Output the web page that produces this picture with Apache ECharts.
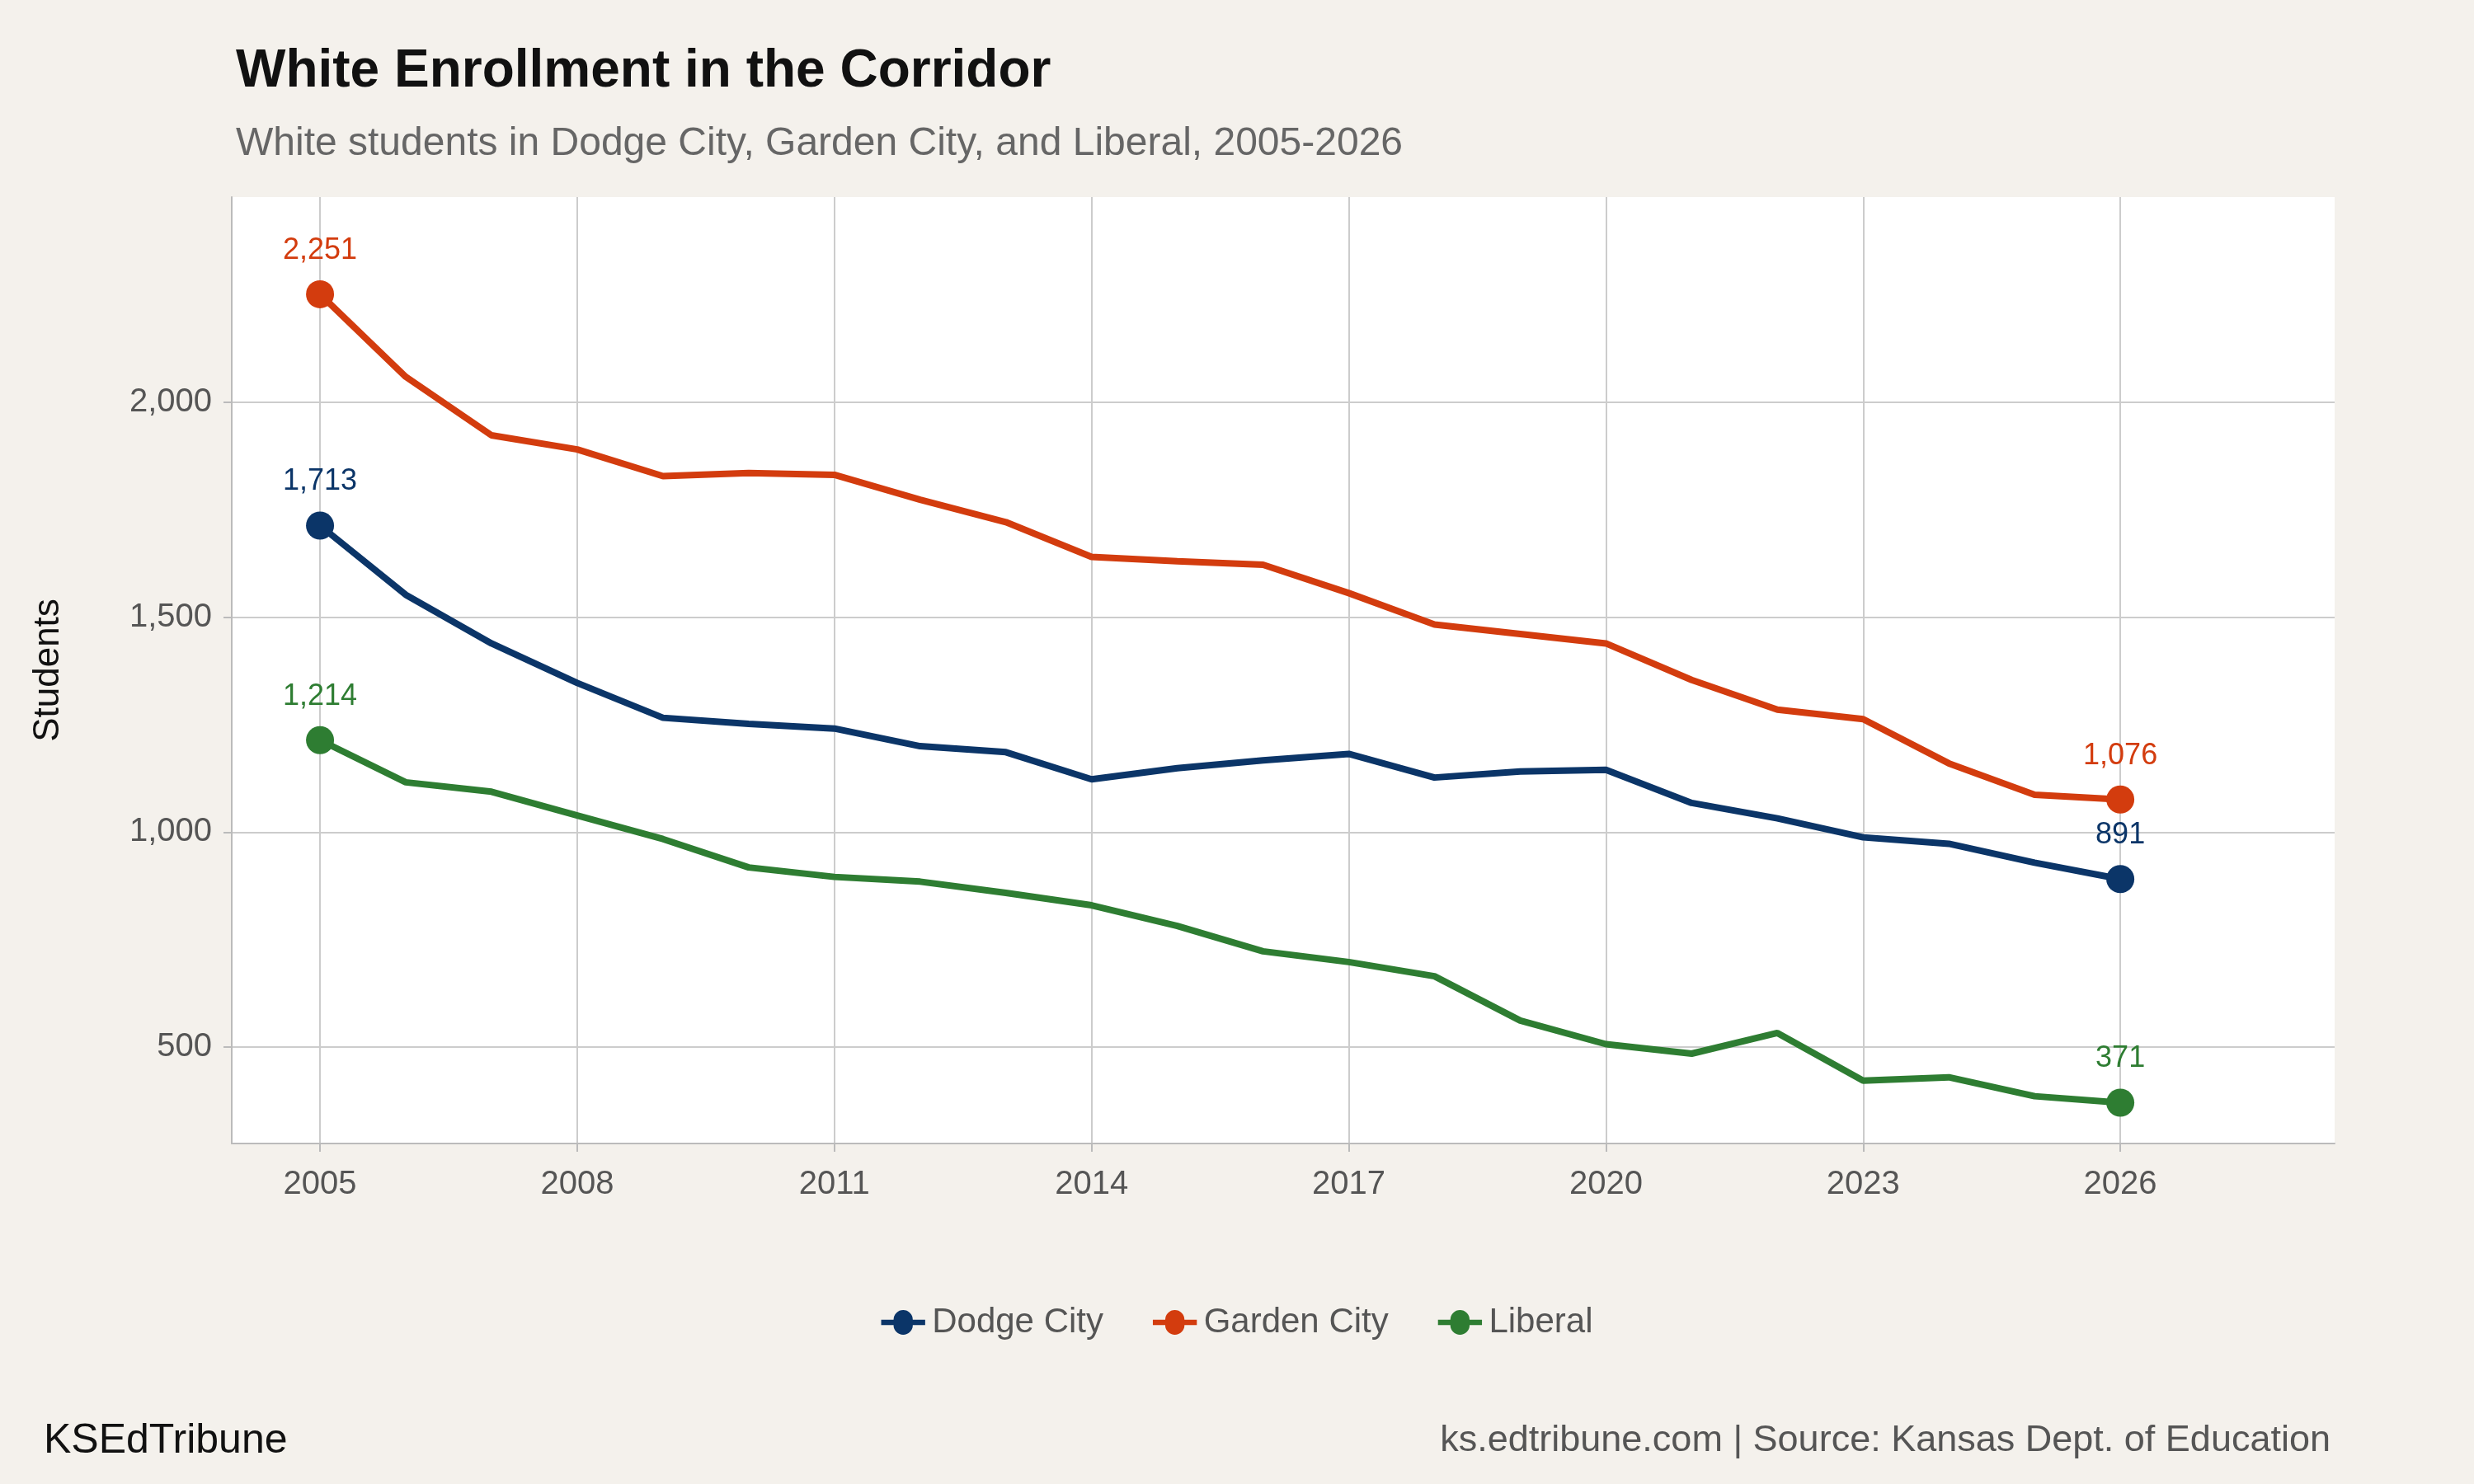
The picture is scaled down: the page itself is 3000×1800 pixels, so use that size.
<!DOCTYPE html>
<html><head><meta charset="utf-8">
<script src="https://cdn.jsdelivr.net/npm/echarts@6/dist/echarts.min.js"></script>
<style>html,body{margin:0;padding:0;background:#f4f1ec}#c{width:3000px;height:1800px}</style>
</head><body><div id="c"></div>
<script>
const years = [2005,2006,2007,2008,2009,2010,2011,2012,2013,2014,2015,2016,2017,2018,2019,2020,2021,2022,2023,2024,2025,2026];
const dodgeCity = [1713,1552,1439,1347,1266,1252,1241,1200,1186,1123,1149,1167,1182,1127,1141,1145,1068,1032,988,973,929,891];
const gardenCity = [2251,2059,1923,1890,1828,1835,1831,1773,1721,1640,1630,1622,1556,1483,1461,1439,1354,1285,1263,1160,1087,1076];
const liberal = [1214,1116,1094,1039,984,918,896,885,859,830,782,723,698,665,562,507,485,533,422,430,386,371];
const xTicks = [2005,2008,2011,2014,2017,2020,2023,2026];
const yTicks = [500,1000,1500,2000];
const names = ['Dodge City','Garden City','Liberal'];
const colors = ['#0b3568','#d33c0e','#2e7d32'];
const font = 'Liberation Sans, Arial, sans-serif';

function mk(name, vals, color){
  return {
    name, type:'line', color, lineStyle:{width:8,color}, showSymbol:true, z:3,
    data: vals.map((v,i)=>{
      const end = i===0 || i===vals.length-1;
      return end ? {value:[years[i],v], symbol:'circle', symbolSize:34,
        itemStyle:{color},
        label:{show:true, position:'top', distance:18, color, fontSize:36, fontFamily:font,
          formatter:p=>p.value[1].toLocaleString('en-US')}}
        : {value:[years[i],v], symbol:'none'};
    })
  };
}
const chart = echarts.init(document.getElementById('c'));
chart.setOption({
  backgroundColor:'#f4f1ec',
  animation:false,
  title:[
    {text:'White Enrollment in the Corridor', left:281, top:50, textStyle:{fontFamily:font,fontSize:64,fontWeight:'bold',color:'#111'}},
    {text:'White students in Dodge City, Garden City, and Liberal, 2005-2026', left:281, top:146, textStyle:{fontFamily:font,fontSize:48,fontWeight:'normal',color:'#666'}},
    {text:'KSEdTribune', left:48, top:1718, textStyle:{fontFamily:font,fontSize:50,fontWeight:'normal',color:'#111'}},
    {text:'ks.edtribune.com | Source: Kansas Dept. of Education', right:169, top:1720, textStyle:{fontFamily:font,fontSize:45,fontWeight:'normal',color:'#555'}}
  ],
  legend:{bottom:170, left:'center', itemWidth:60, itemHeight:30, itemGap:60,
    icon:'path://M0,7h9a7,7 0 1 1 14,0h9v4h-9a7,7 0 1 1-14,0H0z',
    textStyle:{fontFamily:font,fontSize:42,color:'#555'}, data:names},
  grid:{left:281, right:169, top:239, bottom:413, backgroundColor:'#fff', show:true, borderWidth:0},
  xAxis:{type:'value', min:2003.97, max:2028.5,
    axisLine:{show:true, onZero:false, lineStyle:{color:'#bbb',width:2}},
    axisTick:{show:true, customValues:xTicks, length:10, lineStyle:{color:'#bbb',width:2}},
    axisLabel:{customValues:xTicks, fontFamily:font, fontSize:40, color:'#555', margin:30, formatter:v=>String(v)},
    splitLine:{show:true, lineStyle:{color:'#ccc',width:2}}},
  yAxis:{type:'value', min:276, max:2477,
    name:'Students', nameLocation:'middle', nameGap:200, nameTextStyle:{fontFamily:font,fontSize:44,color:'#111'},
    axisLine:{show:true, lineStyle:{color:'#bbb',width:2}},
    axisTick:{show:true, customValues:yTicks, length:10, lineStyle:{color:'#bbb',width:2}},
    axisLabel:{customValues:yTicks, fontFamily:font, fontSize:40, color:'#555', margin:24,
      formatter:v=>v.toLocaleString('en-US')},
    splitLine:{show:true, lineStyle:{color:'#ccc',width:2}}},
  series:[mk(names[0],dodgeCity,colors[0]), mk(names[1],gardenCity,colors[1]), mk(names[2],liberal,colors[2])]
});
</script></body></html>
